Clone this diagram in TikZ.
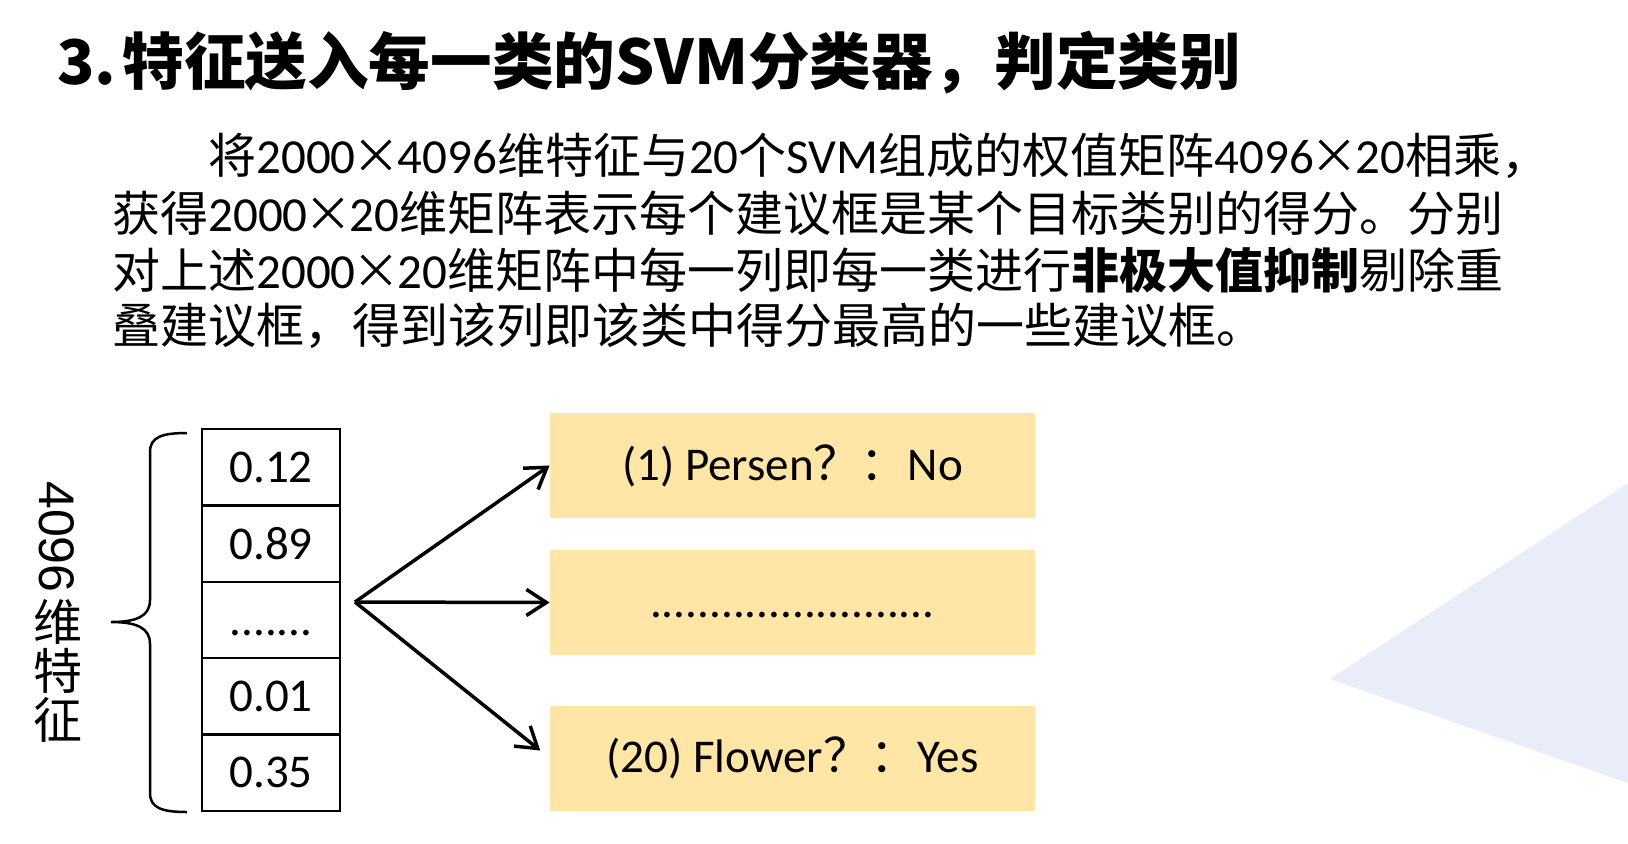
\documentclass[tikz,border=0pt]{standalone}
\usepackage{fontspec}
\setmainfont{Carlito}
\newfontfamily\cjk{Noto Sans CJK SC}
\newfontfamily\lat{Carlito}
\newfontfamily\ari{Liberation Sans}
\usetikzlibrary{arrows.meta}
\definecolor{boxyellow}{RGB}{255,229,166}
\definecolor{bgblue}{RGB}{233,237,250}
\newcommand{\mytimes}{\makebox[21pt]{\cjk ×}}
\newcommand{\pfont}{\cjk\fontsize{24pt}{24pt}\selectfont}
\newcommand{\lt}[1]{{\lat\fontsize{24.5pt}{24.5pt}\selectfont #1}}
\begin{document}
\begin{tikzpicture}[x=0.5pt,y=-0.5pt,
  pline/.style={anchor=west,inner sep=0pt,font=\pfont},
  cell/.style={draw,line width=1.25pt,minimum width=69pt,minimum height=38.2pt,inner sep=0pt,font=\lat\fontsize{23.5pt}{23.5pt}\selectfont},
  ybox/.style={fill=boxyellow,minimum width=242.5pt,minimum height=52.5pt,inner sep=0pt,font=\lat\fontsize{23.5pt}{23.5pt}\selectfont},
  arr/.style={-{Straight Barb[length=10pt,width=13pt]},line width=1.75pt},
  brace/.style={line width=1.25pt}]
\useasboundingbox (0,0) rectangle (1628,843);
\fill[white] (0,0) rectangle (1628,843);
\fill[bgblue] (1330,679) -- (1628,483) -- (1628,783) -- cycle;

\node[anchor=west,inner sep=0pt,font=\cjk\bfseries\fontsize{30.8pt}{30.8pt}\selectfont] (title) at (57,63)
  {3.\hspace{3pt}特征送入每一类的SVM分类器，判定类别};

\node[pline] (p1) at (208,156) {将\lt{2000}\mytimes\lt{4096}维特征与\lt{20}个\lt{SVM}组成的权值矩阵\lt{4096}\mytimes\lt{20}相乘，};
\node[pline] (p2) at (112,213) {获得\lt{2000}\mytimes\lt{20}维矩阵表示每个建议框是某个目标类别的得分。分别};
\node[pline] (p3) at (112,270) {对上述\lt{2000}\mytimes\lt{20}维矩阵中每一列即每一类进行{\bfseries 非极大值抑制}剔除重};
\node[pline] (p4) at (112,326) {叠建议框，得到该列即该类中得分最高的一些建议框。};

\node[rotate=-90,inner sep=0pt,font=\ari\fontsize{25pt}{25pt}\selectfont] (d4096) at (57,537) {4096};
\node[inner sep=0pt,align=center,font=\cjk\fontsize{24.5pt}{24.5pt}\selectfont] (lbl) at (58,671) {维\\特\\征};

\draw[brace] (187,433) .. controls (162,433) and (150,437) .. (150,452) -- (150,600)
  .. controls (150,616) and (137,622) .. (111,622)
  .. controls (137,622) and (150,628) .. (150,644) -- (150,793)
  .. controls (150,808) and (162,812) .. (187,812);

\node[cell] (c1) at (271,467.2) {0.12};
\node[cell] (c2) at (271,543.6) {0.89};
\node[cell] (c3) at (271,620) {\vphantom{0}.......};
\node[cell] (c4) at (271,696.4) {0.01};
\node[cell] (c5) at (271,772.8) {0.35};

\node[ybox] (b1) at (792.5,465.5) {(1) Persen{\cjk ？：}No};
\node[ybox] (b2) at (792.5,602.5) {\vphantom{0}........................};
\node[ybox] (b3) at (792.5,758) {(20) Flower{\cjk ？：}Yes};

\coordinate (src) at (355,602);
\draw[arr] (src) -- (b1.west);
\draw[arr] (src) -- (b2.west);
\draw[arr,shorten >=6pt] (src) -- (b3.west);
\end{tikzpicture}
\end{document}
